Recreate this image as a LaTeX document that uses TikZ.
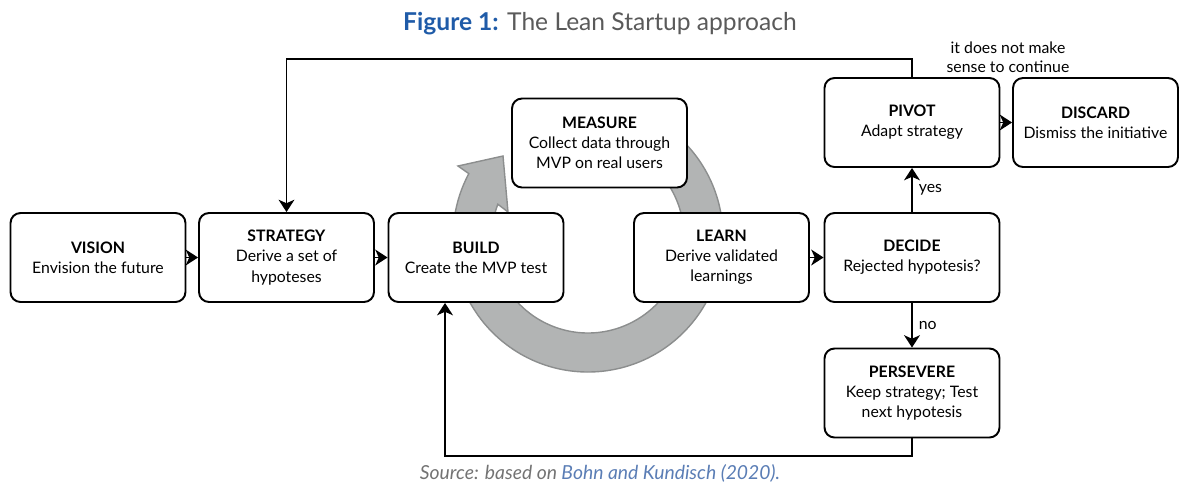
\documentclass[tikz,border=0pt]{standalone}
\usepackage{fontspec}
\setmainfont{Lato}
\usepackage{tikz}
\usetikzlibrary{calc}
\usetikzlibrary{arrows.meta}
\usepackage{color}
\definecolor{figblue}{HTML}{1F5BA8}
\definecolor{srcblue}{HTML}{5A7DB5}
\definecolor{txtgray}{HTML}{5A5A5A}
\definecolor{ringfill}{HTML}{B2B4B4}
\definecolor{ringedge}{HTML}{8C8E8E}

\tikzset{
  stage/.style={draw,line width=1.1pt,rounded corners=0.2cm,fill=white,
    minimum width=3.5cm,minimum height=1.78cm,align=center,
    font=\fontsize{9}{11.5}\selectfont},
  flow/.style={-{Stealth[length=7pt,width=9pt,inset=2pt]},line width=1.1pt},
  lbl/.style={align=center,font=\fontsize{9}{11}\selectfont}
}

\begin{document}
\begin{tikzpicture}[x=0.02cm,y=-0.02cm]
\useasboundingbox (0,0) rectangle (1180,484);

\node (title) at (600,24) {\fontsize{14}{16}\selectfont\textcolor{figblue}{\textbf{Figure 1:}} \textcolor{txtgray}{The Lean Startup approach}};

% grey cycle behind build, measure and learn
\filldraw[fill=ringfill,draw=ringedge,line width=0.8pt] ($(588,237)+(-50:135)$) arc[start angle=-50,end angle=208,radius=135] -- (458,166) -- (503,156) -- (508,212) -- ($(588,237)+(200:96)$) arc[start angle=200,end angle=-50,radius=96] -- cycle;

\node[stage] (vision) at (98,257.5) {\textbf{VISION}\\Envision the future};
\node[stage] (strategy) at (286.5,257.5) {\textbf{STRATEGY}\\Derive a set of\\hypoteses};
\node[stage] (build) at (476,257.5) {\textbf{BUILD}\\Create the MVP test};
\node[stage] (measure) at (599.5,143) {\textbf{MEASURE}\\Collect data through\\MVP on real users};
\node[stage] (learn) at (721.5,257.5) {\textbf{LEARN}\\Derive validated\\learnings};
\node[stage] (decide) at (912,257.5) {\textbf{DECIDE}\\Rejected hypotesis?};
\node[stage] (pivot) at (912,122.5) {\textbf{PIVOT}\\Adapt strategy};
\node[stage,minimum width=3.3cm] (discard) at (1095.5,122.5) {\textbf{DISCARD}\\Dismiss the initiative};
\node[stage] (persevere) at (912,393) {\textbf{PERSEVERE}\\Keep strategy; Test\\next hypotesis};

\node[lbl] (nosense) at (1008,57) {it does not make\\sense to continue};

\draw[flow] (vision) -- (strategy);
\draw[flow] (strategy) -- (build);
\draw[flow] (learn) -- (decide);
\draw[flow] (pivot) -- (discard);
\draw[flow] (decide) -- node[right,lbl] {yes} (pivot);
\draw[flow] (decide) -- node[right,lbl] {no} (persevere);
\draw[flow] (pivot.north) -- ++(0,-18) -| (strategy.north);
\draw[flow] (persevere.south) -- ++(0,18) -| ($(build.south)+(-31,0)$);

\node[inner sep=1pt] (source) at (600,473) {\fontsize{11}{13}\selectfont\itshape\textcolor{txtgray!85}{Source: based on} \textcolor{srcblue}{Bohn and Kundisch (2020).}};
\end{tikzpicture}
\end{document}
